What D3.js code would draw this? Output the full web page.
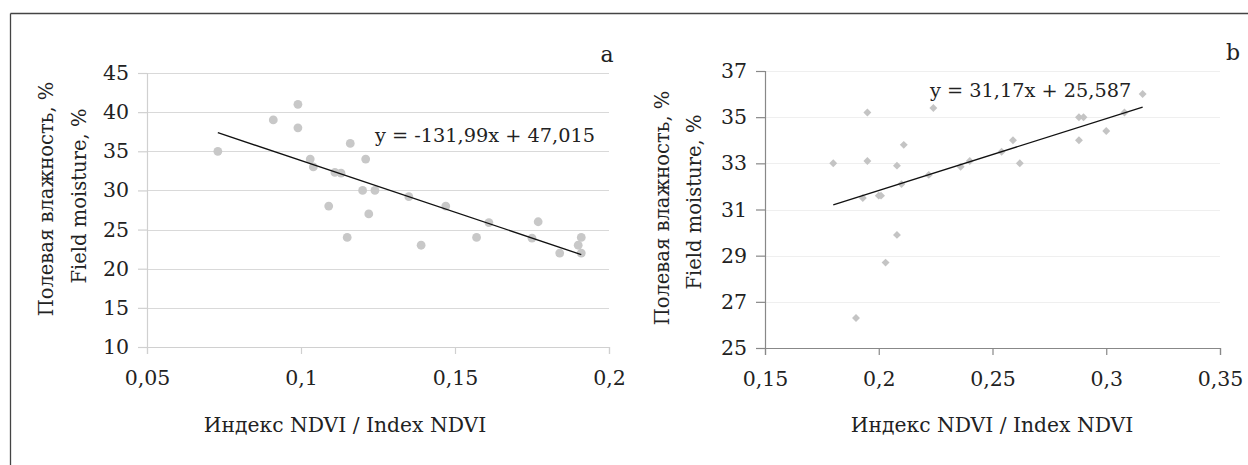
<!DOCTYPE html>
<html>
<head>
<meta charset="utf-8">
<script src="https://cdn.jsdelivr.net/npm/d3@7/dist/d3.min.js"></script>
<style>
  html, body { margin: 0; padding: 0; background: #fff; }
  svg { display: block; }
</style>
</head>
<body>
<svg id="chart" width="1248" height="465"></svg>
<script>
// ---- Data ----
const ndviA = [0.073,0.091,0.099,0.099,0.103,0.104,0.109,0.111,0.113,0.115,0.116,0.120,0.121,0.122,0.124,0.135,0.139,0.147,0.157,0.161,0.175,0.177,0.184,0.190,0.191,0.191];
const moistA = [35,39,41,38,34,33,28,32.3,32.2,24,36,30,34,27,30,29.2,23,28,24,25.9,23.9,26,22,23,24,22];
const ndviB = [0.180,0.190,0.193,0.195,0.195,0.200,0.201,0.203,0.208,0.208,0.210,0.211,0.222,0.224,0.236,0.240,0.254,0.259,0.262,0.288,0.290,0.288,0.300,0.308,0.316];
const moistB = [33,26.3,31.5,35.2,33.1,31.6,31.6,28.7,32.9,29.9,32.1,33.8,32.5,35.4,32.85,33.1,33.5,34,33,35,35,34,34.4,35.2,36];
const trendA = [-131.99, 47.015];
const trendB = [31.17, 25.587];
const xTicksA = [0.05, 0.1, 0.15, 0.2];
const yTicksA = [10, 15, 20, 25, 30, 35, 40, 45];
const xTicksB = [0.15, 0.2, 0.25, 0.3, 0.35];
const yTicksB = [25, 27, 29, 31, 33, 35, 37];
const eqA = "y = -131,99x + 47,015";
const eqB = "y = 31,17x + 25,587";
const yTitle1 = "Полевая влажность, %";
const yTitle2 = "Field moisture, %";
const xTitle = "Индекс NDVI / Index NDVI";

const FONT = "'DejaVu Serif', serif";
const svg = d3.select("#chart");
const fmt = d => String(d).replace(".", ",");

// outer frame (top and left edges)
svg.append("line").attr("x1", 10.5).attr("x2", 1248).attr("y1", 13.5).attr("y2", 13.5).attr("stroke", "#444").attr("stroke-width", 1.3);
svg.append("line").attr("x1", 10.5).attr("x2", 10.5).attr("y1", 13.5).attr("y2", 465).attr("stroke", "#444").attr("stroke-width", 1.3);

function panel(cfg) {
  const g = svg.append("g").attr("font-family", FONT).attr("fill", "#222");
  const x = d3.scaleLinear().domain(cfg.xDom).range([cfg.x0, cfg.x1]);
  const y = d3.scaleLinear().domain(cfg.yDom).range([cfg.y1, cfg.y0]);

  g.append("g").selectAll("line").data(cfg.yTicks.slice(1)).join("line")
    .attr("x1", cfg.x0).attr("x2", cfg.x1)
    .attr("y1", d => Math.round(y(d)) + 0.5).attr("y2", d => Math.round(y(d)) + 0.5)
    .attr("stroke", cfg.gridColor).attr("stroke-width", 1.2);

  const ya = g.append("g").attr("transform", `translate(${cfg.x0},0)`)
    .call(d3.axisLeft(y).tickValues(cfg.yTicks).tickFormat(fmt).tickSize(9).tickPadding(9));
  ya.attr("font-family", FONT);
  ya.select(".domain").attr("stroke", cfg.axisColor).attr("stroke-width", 1.2);
  ya.selectAll(".tick line").attr("stroke", cfg.axisColor).attr("stroke-width", 1.2);
  ya.selectAll(".tick text").attr("font-size", 20.5).attr("fill", "#222");

  const xa = g.append("g").attr("transform", `translate(0,${cfg.y1})`)
    .call(d3.axisBottom(x).tickValues(cfg.xTicks).tickFormat(fmt).tickSize(7).tickPadding(16));
  xa.attr("font-family", FONT);
  xa.select(".domain").attr("stroke", cfg.axisColor).attr("stroke-width", 1.2);
  xa.selectAll(".tick line").attr("stroke", cfg.axisColor).attr("stroke-width", 1.2);
  xa.selectAll(".tick text").attr("font-size", 20.5).attr("fill", "#222");

  const pts = cfg.xs.map((v, i) => [v, cfg.ys[i]]);
  if (cfg.diamond) {
    g.append("g").selectAll("path").data(pts).join("path")
      .attr("d", d3.symbol().type(d3.symbolDiamond2).size(40))
      .attr("transform", d => `translate(${x(d[0])},${y(d[1])})`)
      .attr("fill", "#c4c4c4");
  } else {
    g.append("g").selectAll("circle").data(pts).join("circle")
      .attr("cx", d => x(d[0])).attr("cy", d => y(d[1])).attr("r", 4.4)
      .attr("fill", "#c8c8c8");
  }

  const [mn, mx] = d3.extent(cfg.xs);
  const line = d3.line().x(d => x(d)).y(d => y(cfg.trend[0] * d + cfg.trend[1]));
  g.append("path").attr("d", line([mn, mx])).attr("stroke", "#111").attr("stroke-width", 1.3).attr("fill", "none");

  g.append("text").attr("x", cfg.eqPos[0]).attr("y", cfg.eqPos[1]).attr("font-size", 19.3).text(cfg.eq);

  g.append("text").attr("x", cfg.letterPos[0]).attr("y", cfg.letterPos[1]).attr("font-size", 22)
    .attr("text-anchor", "middle").text(cfg.letter);

  g.append("text").attr("x", cfg.xTitlePos[0]).attr("y", cfg.xTitlePos[1]).attr("font-size", 20.3)
    .attr("text-anchor", "middle").text(xTitle);

  g.append("text").attr("transform", `translate(${cfg.yT1[0]},${cfg.yT1[1]}) rotate(-90)`)
    .attr("font-size", 19.5).attr("text-anchor", "middle").attr("dy", "0.35em").text(yTitle1);
  g.append("text").attr("transform", `translate(${cfg.yT2[0]},${cfg.yT2[1]}) rotate(-90)`)
    .attr("font-size", 19.5).attr("text-anchor", "middle").attr("dy", "0.35em").text(yTitle2);
}

panel({
  xDom: [0.05, 0.2], yDom: [10, 45], x0: 147, x1: 609, y0: 73, y1: 347,
  xTicks: xTicksA, yTicks: yTicksA, xs: ndviA, ys: moistA, trend: trendA,
  gridColor: "#d9d9d9", axisColor: "#d0d0d0", diamond: false,
  eq: eqA, eqPos: [375, 142], letter: "a", letterPos: [607, 62],
  xTitlePos: [345, 432], yT1: [46, 199], yT2: [79, 196]
});

panel({
  xDom: [0.15, 0.35], yDom: [25, 37], x0: 765, x1: 1220, y0: 71, y1: 348,
  xTicks: xTicksB, yTicks: yTicksB, xs: ndviB, ys: moistB, trend: trendB,
  gridColor: "#efefef", axisColor: "#888888", diamond: true,
  eq: eqB, eqPos: [930, 97], letter: "b", letterPos: [1233, 60],
  xTitlePos: [992, 432], yT1: [662, 208], yT2: [694, 202]
});
</script>
</body>
</html>
